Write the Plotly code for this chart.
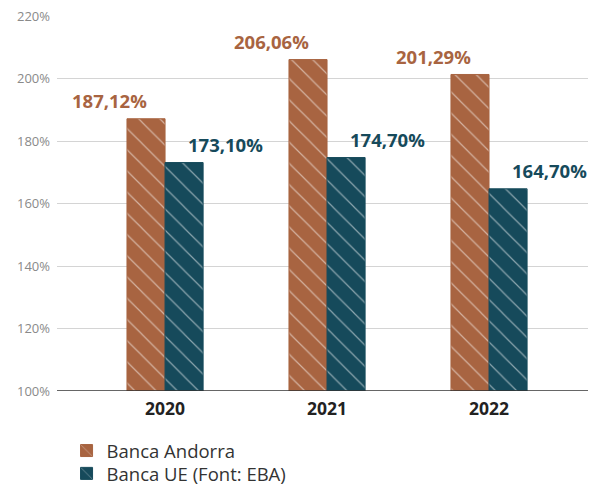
import plotly.graph_objects as go

# Solvency ratio by year
years = ["2020", "2021", "2022"]
andorra = [187.12, 206.06, 201.29]
ue = [173.10, 174.70, 164.70]
series_names = ["Banca Andorra", "Banca UE (Font: EBA)"]
y_ticks = [100, 120, 140, 160, 180, 200, 220]

BROWN = "#A86441"
TEAL = "#164A5B"

x_pos = list(range(len(years)))
half = 0.117  # half the width of one bar, in category units


def fmt(v):
    return f"{v:,.2f}%".replace(".", ",")


fig = go.Figure()
for name, vals, color, leg in [(series_names[0], andorra, BROWN, "legend"),
                               (series_names[1], ue, TEAL, "legend2")]:
    fig.add_trace(go.Bar(
        x=x_pos, y=[v - 100 for v in vals], base=100, name=name, legend=leg,
        marker=dict(color=color, line=dict(color=color, width=1),
                    pattern=dict(shape="\\", fgcolor="white", bgcolor=color,
                                 size=15, solidity=0.08, fillmode="overlay")),
        hoverinfo="skip",
    ))

# value labels: left of the first bar's centre, right of the second's
for i, v in enumerate(andorra):
    fig.add_annotation(x=x_pos[i] - half, y=v, text=f"<b>{fmt(v)}</b>", showarrow=False,
                       xanchor="right", yanchor="middle", yshift=18, xshift=3,
                       font=dict(family="Open Sans", size=18.5, color=BROWN))
for i, v in enumerate(ue):
    fig.add_annotation(x=x_pos[i] + half, y=v, text=f"<b>{fmt(v)}</b>", showarrow=False,
                       xanchor="left", yanchor="middle", yshift=18, xshift=2,
                       font=dict(family="Open Sans", size=18.5, color=TEAL))

legend_style = dict(x=0.018, xanchor="left", yanchor="middle", yref="container",
                    font=dict(family="Open Sans", size=18.5, color="#333333"),
                    itemwidth=30, bgcolor="rgba(0,0,0,0)")

fig.update_layout(
    width=590, height=486,
    margin=dict(l=57, r=2, t=16, b=95, autoexpand=False),
    paper_bgcolor="white", plot_bgcolor="white",
    barmode="group", bargap=0.53, bargroupgap=0,
    font=dict(family="Open Sans"),
    showlegend=True,
    legend=dict(y=0.072, **legend_style),
    legend2=dict(y=0.025, **legend_style),
    xaxis=dict(range=[-0.667, 2.611], tickmode="array", tickvals=x_pos,
               ticktext=[f"<b>{y}</b>" for y in years], showgrid=False,
               tickfont=dict(family="Open Sans", size=17.5, color="#222222"),
               showline=False, zeroline=False, ticks="", ticklabelstandoff=5),
    yaxis=dict(range=[100, 220], tickmode="array", tickvals=y_ticks,
               ticktext=[f"{t}%" for t in y_ticks], showgrid=True,
               gridcolor="#d4d4d4", gridwidth=1, zeroline=False, showline=False,
               tickfont=dict(family="Open Sans", size=13, color="#8a8a8a"),
               ticklabelstandoff=6),
)

# baseline at 100%
fig.add_shape(type="line", xref="paper", yref="y", x0=0, x1=1, y0=100, y1=100,
              line=dict(color="#333333", width=1.5), layer="above")

fig.write_html("out.html")
